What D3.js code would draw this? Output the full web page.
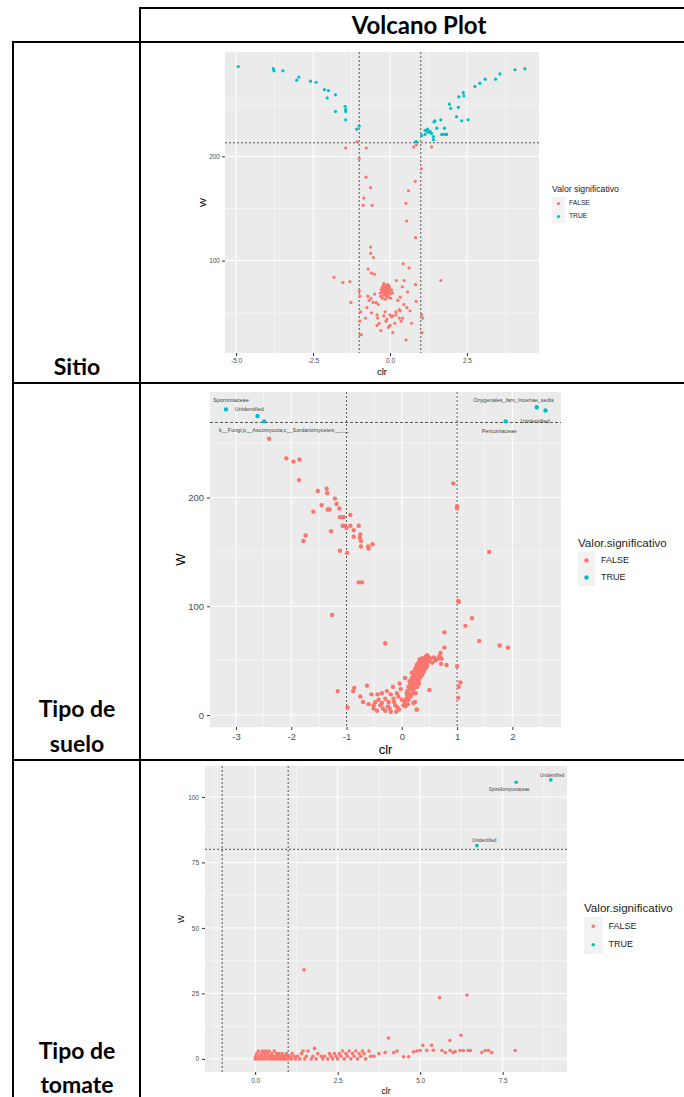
<!DOCTYPE html>
<html>
<head>
<meta charset="utf-8">
<script src="https://cdn.jsdelivr.net/npm/d3@7"></script>
<style>
  body { margin: 0; background: #fff; }
  svg { display: block; }
</style>
</head>
<body>
<div id="chart"></div>
<script>
// ---- table text ----
const headerText = "Volcano Plot";
const rowLabels = [["Sitio"], ["Tipo de", "suelo"], ["Tipo de", "tomate"]];
const legendTitles = ["Valor significativo", "Valor.significativo", "Valor.significativo"];
const legendLevels = ["FALSE", "TRUE"];
const levelColors = ["#F8766D", "#00BFC4"];

// ---- plot 1: Sitio (clr, W) ----
const sitioTrue = [
  [-4.93,286],[-3.79,284],[-3.77,282],[-3.48,282],[-3.03,273],[-2.96,276],[-2.58,272],[-2.40,271],
  [-2.13,264],[-2.00,263],[-2.04,256],[-1.77,259],[-1.77,243],[-1.46,248],[-1.44,245],[-1.44,243],
  [-1.44,235],[-1.08,226],[-1.00,229],[0.83,214],[0.87,214],[1.03,220],[1.14,221],[1.19,224],
  [1.14,225],[1.22,226],[1.26,223],[1.30,224],[1.35,222],[1.41,216],[1.41,219],[1.43,233],
  [1.46,234],[1.52,227],[1.65,235],[1.68,221],[1.77,227],[1.77,221],[1.84,221],[1.93,250],
  [1.97,246],[2.16,238],[2.22,247],[2.24,257],[2.33,234],[2.38,261],[2.40,258],[2.54,235],
  [2.76,267],[2.92,270],[3.09,274],[3.43,274],[3.57,279],[4.06,283],[4.38,284]
];
const sitioFalse = [
  [-1.44,208],[-1.07,214],[-0.77,208],[-1.00,198],[-0.78,180],[-0.63,170],[-0.85,160],[-0.87,153],
  [-0.58,153],[-0.63,113],[-0.63,107],[-0.54,103],[-0.71,92],[-0.60,88],[-0.50,87],[-1.82,84],
  [-1.53,79],[-1.30,80],[-1.27,60],[-1.00,71],[-0.98,66],[-0.95,51],[-0.98,42],[-0.97,29],[-0.93,29],
  [-0.30,66],[-0.25,70],[-0.20,72],[-0.15,74],[-0.10,73],[-0.05,70],[0.00,68],[-0.28,72],[-0.22,76],
  [-0.18,68],[-0.12,66],[-0.08,77],[-0.02,74],[0.05,72],[-0.25,64],[-0.15,63],[-0.05,65],[0.02,64],
  [-0.32,69],[-0.20,78],[-0.10,69],[0.08,69],[-0.17,71],[-0.13,70],[-0.07,71],[-0.23,73],[-0.03,76],
  [-0.19,70],[-0.14,72],[-0.11,75],[-0.09,67],[-0.21,67],[-0.16,76],[-0.06,73],[-0.26,74],[-0.01,71],
  [-0.50,68],[-0.62,64],[-0.55,60],[-0.45,60],[-0.38,58],[-0.72,66],[-0.68,62],[-0.42,48],[-0.40,45],
  [-0.35,40],[-0.42,38],[-0.20,47],[-0.10,44],[0.05,46],[0.10,47],[0.20,48],[0.30,45],[0.15,40],
  [-0.05,36],[-0.30,33],[0.09,31],[0.52,24],[0.43,97],[0.62,93],[0.21,81],[0.46,81],[0.83,77],
  [0.57,70],[0.85,61],[1.03,48],[1.06,45],[1.04,31],[0.83,122],[0.54,138],[0.52,155],[0.60,167],
  [0.82,176],[1.02,188],[0.77,209],[0.86,211],[1.35,209],[1.65,81],[0.33,65],[0.45,58],[0.33,52],
  [0.65,52],[0.40,75],[0.25,62],[0.55,55],[0.70,40],[-0.60,50],[-0.75,55],[-0.80,45],[-0.16,51],
  [0.00,48],[-0.13,42],[0.19,51],[0.30,53],[0.41,45],[0.36,42],[0.00,38]
];

// ---- plot 2: Tipo de suelo ----
const sueloTrue = [[-3.18,281],[-2.61,275],[-2.49,270],[1.88,270],[2.44,283],[2.60,280]];
const sueloFalse = [
  [-2.40,254],[-2.09,236],[-1.96,233],[-1.85,235],[-1.86,216],[-1.52,206],[-1.36,208],[-1.35,204],
  [-1.45,193],[-1.60,187],[-1.34,189],[-1.31,189],[-1.21,199],[-1.18,194],[-1.13,190],[-1.12,182],
  [-1.09,182],[-1.05,182],[-0.93,184],[-1.07,174],[-1.03,174],[-1.00,172],[-0.93,174],[-0.87,170],
  [-0.78,174],[-0.75,166],[-0.76,163],[-0.74,160],[-0.87,164],[-0.74,155],[-0.60,153],[-0.61,155],
  [-0.53,157],[-0.99,149],[-1.12,151],[-1.28,169],[-1.74,165],[-1.78,160],[-0.78,122],[-0.72,122],
  [-1.26,92],[-0.30,66],
  [0.93,213],[1.00,192],[1.00,190],[1.03,104],[1.02,105],[1.27,89],[1.15,82],[1.40,68],[1.58,150],
  [1.77,64],[1.92,62],[0.77,76],[0.77,62],[0.70,57],[0.81,46],[0.60,50],[0.68,54],[0.72,52],
  [0.48,53],[0.50,23],[0.27,5],[0.21,11],[1.00,45],[1.06,30],[1.03,26],[1.02,16],
  [-1.16,22],[-0.98,7],[-0.88,22],[-0.86,25],[-0.75,17],[-0.63,27],[-0.55,19],[-0.51,9],[-0.51,6],
  [-0.44,19],[-0.42,14],[-0.39,9],[-0.36,20],[-0.34,6],[-0.30,15],[-0.27,22],[-0.24,12],[-0.22,6],
  [-0.20,19],[-0.16,26],[-0.15,15],[-0.12,9],[-0.09,20],[-0.08,7],[-0.04,29],[-0.02,24],[0.00,14],
  [0.03,9],[0.06,34],[0.09,20],[0.14,31],[0.16,17],[0.18,39],[0.21,24],[0.24,12],[0.27,5],[0.28,45],
  [0.30,32],[0.32,51],[0.33,42],[-0.60,10],[-0.45,4],[-0.30,4],[-0.70,12],[-0.20,3],[-0.10,3],
  [-0.05,5],[-0.48,12],[-0.36,11],[-0.25,8],[-0.14,12],[-0.06,17],
  [0.05,12],[0.08,15],[0.10,18],[0.12,22],[0.14,25],[0.16,28],[0.18,30],[0.20,33],[0.22,35],
  [0.24,37],[0.26,39],[0.28,41],[0.30,43],[0.32,45],[0.34,47],[0.36,49],[0.38,50],[0.40,52],
  [0.42,53],[0.44,54],[0.46,55],[0.10,22],[0.12,26],[0.15,30],[0.18,34],[0.20,38],[0.22,40],
  [0.25,43],[0.27,46],[0.30,48],[0.33,50],[0.36,52],[0.12,14],[0.15,19],[0.18,24],[0.21,27],
  [0.24,30],[0.27,33],[0.30,36],[0.33,39],[0.36,42],[0.39,45],[0.42,48],[0.45,51],[0.48,53],
  [0.20,20],[0.23,25],[0.26,28],[0.29,31],[0.32,34],[0.35,38],[0.38,41],[0.41,44],[0.44,47],
  [0.47,49],[0.50,50],[0.52,52],[0.55,48],[0.62,51],[0.66,52],[0.71,47],[0.58,53],[0.25,20],
  [0.28,26],[0.31,29],[0.34,35],[0.37,37],[0.40,40],[0.43,43],[0.46,45],[0.07,8],[0.11,10]
];
const sueloLabels = [
  {text: "Sporomiaceae", clr: -3.09, w: 289},
  {text: "Unidentified", clr: -2.76, w: 281},
  {text: "k__Fungi;p__Ascomycota;c__Sordariomycetes;__;__", clr: -2.13, w: 262},
  {text: "Onygenales_fam_Incertae_sedis", clr: 2.02, w: 289},
  {text: "Unidentified", clr: 2.41, w: 269.5},
  {text: "Periconiaceae", clr: 1.76, w: 261}
];

// ---- plot 3: Tipo de tomate ----
const tomateTrue = [[7.91,105.6],[8.96,106.5],[6.72,81.4]];
const tomateFalse = [
  [0.00,0],[0.02,1],[0.05,2],[0.07,0],[0.10,3],[0.12,1],[0.15,0],[0.18,2],[0.20,1],[0.22,3],
  [0.25,0],[0.28,2],[0.30,1],[0.32,3],[0.35,0],[0.38,2],[0.40,1],[0.42,3],[0.45,0],[0.48,1],
  [0.50,2],[0.52,0],[0.55,1],[0.58,3],[0.60,0],[0.62,1],[0.65,2],[0.68,0],[0.70,1],[0.72,2],
  [0.75,0],[0.78,1],[0.80,0],[0.82,2],[0.85,1],[0.88,0],[0.90,1],[0.92,0],[0.95,2],[0.98,1],
  [1.00,0],[1.05,1],[1.10,0],[1.12,2],[1.18,1],[1.22,0],[1.28,1],[1.35,0],[1.40,2],[1.45,3],
  [1.50,0],[1.55,1],[1.60,3],[1.70,0],[1.75,1],[1.80,4],[1.85,0],[1.90,2],[2.00,1],[2.05,0],
  [2.10,1],[2.20,0],[2.25,2],[2.30,1],[2.35,0],[2.40,2],[2.45,1],[2.50,0],[2.55,2],[2.60,1],
  [2.65,3],[2.70,0],[2.75,2],[2.80,1],[2.85,3],[2.90,0],[2.95,2],[3.00,1],[3.05,3],[3.10,0],
  [3.15,2],[3.20,1],[3.25,3],[3.30,2],[3.35,0],[3.45,3],[3.50,1],[3.60,1],[3.75,2],
  [3.94,2.4],[4.20,2.4],[4.30,3],[4.50,0.8],[4.65,0.8],[4.80,2.7],[4.90,3.0],[5.08,5.2],[5.20,3.3],
  [5.35,5.2],[5.40,3.3],[5.00,3.2],[5.66,3.2],[5.76,2.4],[5.91,3.2],[6.00,2.4],[6.06,2.8],[6.21,3.2],
  [6.31,3.2],[6.46,3.2],[6.52,3.2],[6.87,2.4],[6.97,3.2],[7.07,3.2],[7.17,2.4],[7.88,3.2],
  [4.04,8],[5.59,23.4],[6.42,24.4],[6.24,9],[5.90,7],[1.48,34]
];
const tomateLabels = [
  {text: "Unidentified", clr: 9.0, w: 108.2},
  {text: "Spizellomycetaceae", clr: 7.7, w: 102.9},
  {text: "Unidentified", clr: 6.94, w: 83.1}
];

const width = 684, height = 1097;
const svg = d3.select("#chart").append("svg")
  .attr("width", width).attr("height", height)
  .style("background", "#fff");

// ---- table frame ----
const frame = svg.append("g").attr("stroke", "#000").attr("stroke-width", 2);
const hLines = [[140, 684, 8], [13, 684, 42], [13, 684, 383], [13, 684, 760]];
hLines.forEach(l => frame.append("line").attr("x1", l[0]).attr("x2", l[1]).attr("y1", l[2]).attr("y2", l[2]));
frame.append("line").attr("x1", 140).attr("x2", 140).attr("y1", 7).attr("y2", height);
frame.append("line").attr("x1", 13).attr("x2", 13).attr("y1", 41).attr("y2", height);

svg.append("text").attr("x", 419).attr("y", 34).attr("text-anchor", "middle")
  .style("font-family", "Lato, 'Open Sans', sans-serif").style("font-weight", "bold")
  .style("font-size", "24px").text(headerText);

const rowBase = [[375], [717, 752], [1059, 1093]];
rowLabels.forEach((lines, i) => {
  lines.forEach((t, j) => {
    svg.append("text").attr("x", 77).attr("y", rowBase[i][j]).attr("text-anchor", "middle")
      .style("font-family", "Lato, 'Open Sans', sans-serif").style("font-weight", "bold")
      .style("font-size", "23px").text(t);
  });
});

// ---- one ggplot-like panel ----
function drawPlot(p) {
  const g = svg.append("g").style("font-family", "'Liberation Sans', Arial, sans-serif");
  const x = d3.scaleLinear().domain(p.xDomain).range([p.left, p.right]);
  const y = d3.scaleLinear().domain(p.yDomain).range([p.bottom, p.top]);

  g.append("rect").attr("x", p.left).attr("y", p.top)
    .attr("width", p.right - p.left).attr("height", p.bottom - p.top).attr("fill", "#EBEBEB");

  const grid = (vals, vertical, w) => g.append("g").selectAll("line").data(vals).join("line")
    .attr("x1", d => vertical ? x(d) : p.left).attr("x2", d => vertical ? x(d) : p.right)
    .attr("y1", d => vertical ? p.top : y(d)).attr("y2", d => vertical ? p.bottom : y(d))
    .attr("stroke", "#fff").attr("stroke-width", w);
  grid(p.xMinor, true, 0.5); grid(p.yMinor, false, 0.5);
  grid(p.xTicks, true, 1); grid(p.yTicks, false, 1);

  const styleAxis = a => {
    a.select(".domain").remove();
    a.attr("font-family", null).attr("font-size", null);
    a.selectAll("line").attr("stroke", "#333");
    a.selectAll("text").attr("fill", "#4D4D4D").style("font-size", p.tickFont + "px");
  };
  g.append("g").attr("transform", `translate(0,${p.bottom})`)
    .call(d3.axisBottom(x).tickValues(p.xTicks).tickFormat(p.xFmt).tickSize(p.tick).tickPadding(p.pad))
    .call(styleAxis);
  g.append("g").attr("transform", `translate(${p.left},0)`)
    .call(d3.axisLeft(y).tickValues(p.yTicks).tickFormat(d => String(d)).tickSize(p.tick).tickPadding(p.pad))
    .call(styleAxis);

  // thresholds
  g.append("g").selectAll("line").data([-1, 1]).join("line")
    .attr("x1", d => x(d)).attr("x2", d => x(d)).attr("y1", p.top).attr("y2", p.bottom)
    .attr("stroke", "#555").attr("stroke-width", 1).attr("stroke-dasharray", "2,2");
  g.append("line").attr("x1", p.left).attr("x2", p.right)
    .attr("y1", y(p.threshold)).attr("y2", y(p.threshold))
    .attr("stroke", "#555").attr("stroke-width", 1).attr("stroke-dasharray", p.hDash);

  // points
  [p.falseData, p.trueData].forEach((data, i) => {
    g.append("g").selectAll("circle").data(data).join("circle")
      .attr("cx", d => x(d[0])).attr("cy", d => y(d[1])).attr("r", p.r)
      .attr("fill", levelColors[i]);
  });

  // point labels
  g.append("g").selectAll("text").data(p.labels || []).join("text")
    .attr("x", d => x(d.clr)).attr("y", d => y(d.w))
    .attr("text-anchor", "middle").attr("dominant-baseline", "middle")
    .attr("fill", "#444").style("font-size", p.labelFont + "px").text(d => d.text);

  // axis titles
  g.append("text").attr("x", (p.left + p.right) / 2).attr("y", p.xTitleY)
    .attr("text-anchor", "middle").style("font-size", p.titleFont + "px").text("clr");
  g.append("text").attr("transform", `translate(${p.yTitleX},${(p.top + p.bottom) / 2}) rotate(-90)`)
    .attr("text-anchor", "middle").attr("dominant-baseline", "middle")
    .style("font-size", p.titleFont + "px").text("W");

  // legend
  const lg = g.append("g").attr("transform", `translate(${p.legX},${p.legY})`);
  lg.append("text").attr("x", 0).attr("y", 0).style("font-size", p.legTitleFont + "px")
    .attr("fill", "#222").text(p.legTitle);
  legendLevels.forEach((lev, i) => {
    const ky = p.keyTop + i * p.key;
    lg.append("rect").attr("x", 0).attr("y", ky).attr("width", p.key).attr("height", p.key).attr("fill", "#F2F2F2");
    lg.append("circle").attr("cx", p.key / 2).attr("cy", ky + p.key / 2).attr("r", p.r).attr("fill", levelColors[i]);
    lg.append("text").attr("x", p.key + p.legGap).attr("y", ky + p.key / 2).attr("dominant-baseline", "middle")
      .style("font-size", p.legFont + "px").attr("fill", "#222").text(lev);
  });
}

drawPlot({
  left: 225, right: 539, top: 52, bottom: 353,
  xDomain: [-5.36, 4.84], yDomain: [11.5, 300],
  xTicks: [-5, -2.5, 0, 2.5], xMinor: [-3.75, -1.25, 1.25, 3.75],
  yTicks: [100, 200], yMinor: [50, 150, 250],
  xFmt: d => d.toFixed(1), tick: 3, pad: 2, tickFont: 6.5,
  threshold: 213, hDash: "2,2",
  falseData: sitioFalse, trueData: sitioTrue, r: 1.6,
  titleFont: 9.5, xTitleY: 375, yTitleX: 203,
  legX: 552, legY: 192, legTitle: legendTitles[0], legTitleFont: 8.7,
  keyTop: 5, key: 13, legGap: 4, legFont: 6.7
});

drawPlot({
  left: 210, right: 561, top: 392, bottom: 727,
  xDomain: [-3.47, 2.88], yDomain: [-11, 297],
  xTicks: [-3, -2, -1, 0, 1, 2], xMinor: [-2.5, -1.5, -0.5, 0.5, 1.5, 2.5],
  yTicks: [0, 100, 200], yMinor: [50, 150, 250],
  xFmt: d => String(d), tick: 3, pad: 3, tickFont: 9.5,
  threshold: 269, hDash: "3,2",
  falseData: sueloFalse, trueData: sueloTrue, r: 2.2,
  labels: sueloLabels, labelFont: 5.5,
  titleFont: 13, xTitleY: 754, yTitleX: 182,
  legX: 578, legY: 547, legTitle: legendTitles[1], legTitleFont: 11.6,
  keyTop: 5, key: 17, legGap: 6, legFont: 9
});

drawPlot({
  left: 205, right: 567, top: 766, bottom: 1072,
  xDomain: [-1.52, 9.45], yDomain: [-5, 111.8],
  xTicks: [0, 2.5, 5, 7.5], xMinor: [-1.25, 1.25, 3.75, 6.25, 8.75],
  yTicks: [0, 25, 50, 75, 100], yMinor: [12.5, 37.5, 62.5, 87.5],
  xFmt: d => d.toFixed(1), tick: 3, pad: 3, tickFont: 6.5,
  threshold: 80, hDash: "2,2",
  falseData: tomateFalse, trueData: tomateTrue, r: 1.8,
  labels: tomateLabels, labelFont: 4.6,
  titleFont: 8.5, xTitleY: 1094, yTitleX: 182,
  legX: 584, legY: 912, legTitle: legendTitles[2], legTitleFont: 11.6,
  keyTop: 5, key: 18.5, legGap: 6, legFont: 9
});
</script>
</body>
</html>
